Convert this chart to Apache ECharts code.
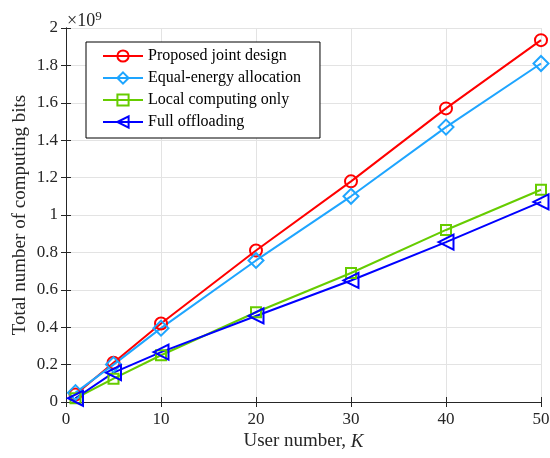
<!DOCTYPE html>
<html>
<head>
<meta charset="utf-8">
<script src="https://cdn.jsdelivr.net/npm/echarts@6/dist/echarts.min.js"></script>
<style>
  html, body { margin: 0; padding: 0; background: #fff; }
  #main { width: 550px; height: 458px; }
</style>
</head>
<body>
<div id="main"></div>
<script>
// 用户数 K
var userNumbers = [1, 5, 10, 20, 30, 40, 50];
// 各方案的总计算比特数 (×1e9)
var proposedJoint = [0.04, 0.21, 0.42, 0.81, 1.18, 1.57, 1.935];
var equalEnergy = [0.05, 0.20, 0.395, 0.757, 1.10, 1.47, 1.81];
var localOnly = [0.02, 0.125, 0.25, 0.48, 0.69, 0.92, 1.135];
var fullOffload = [0.02, 0.157, 0.267, 0.46, 0.65, 0.855, 1.07];
var xTicks = [0, 10, 20, 30, 40, 50];

var font = 'Liberation Serif';
var axisColor = '#262626';

function pairs(ys) {
  return userNumbers.map(function (x, i) { return [x, ys[i]]; });
}

function makeSeries(name, ys, color, symbol, size, rotate) {
  return {
    name: name,
    type: 'line',
    data: pairs(ys),
    symbol: symbol,
    symbolSize: size,
    symbolRotate: rotate || 0,
    showAllSymbol: true,
    lineStyle: { color: color, width: 2 },
    itemStyle: { color: 'rgba(0,0,0,0)', borderColor: color, borderWidth: 2 },
    emphasis: { disabled: true },
    animation: false
  };
}

var chart = echarts.init(document.getElementById('main'));

var option = {
  backgroundColor: '#fff',
  textStyle: { fontFamily: font },
  title: {
    text: '×10{sup|9}',
    left: 62,
    top: 5,
    textStyle: {
      fontFamily: font, fontSize: 18, fontWeight: 'normal', color: axisColor,
      rich: { sup: { fontFamily: font, fontSize: 13, verticalAlign: 'top', padding: [0, 0, 9, 0], color: axisColor } }
    }
  },
  grid: { left: 66, right: 9, top: 28, bottom: 56, outerBoundsMode: 'none', containLabel: false },
  legend: {
    orient: 'vertical',
    left: 86,
    top: 42,
    padding: [6, 19, 8, 16],
    itemGap: 6,
    itemWidth: 40,
    itemHeight: 14,
    borderColor: '#000',
    borderWidth: 1,
    borderRadius: 0,
    backgroundColor: '#fff',
    textStyle: { fontFamily: font, fontSize: 16, color: '#000' },
    data: ['Proposed joint design', 'Equal-energy allocation', 'Local computing only', 'Full offloading']
  },
  xAxis: [{
    type: 'value',
    min: xTicks[0],
    max: xTicks[xTicks.length - 1],
    interval: 10,
    name: 'User number, {i|K}',
    nameLocation: 'middle',
    nameGap: 30,
    nameMoveOverlap: false,
    nameTextStyle: {
      fontFamily: font, fontSize: 19, color: axisColor,
      rich: { i: { fontFamily: font, fontSize: 19, fontStyle: 'italic', color: axisColor } }
    },
    axisLine: { show: true, onZero: false, lineStyle: { color: axisColor, width: 1 } },
    axisTick: { show: true, inside: true, length: 5, lineStyle: { color: axisColor } },
    axisLabel: { fontFamily: font, fontSize: 17, color: axisColor, margin: 9 },
    splitLine: { show: true, lineStyle: { color: '#e3e3e3', width: 1 } }
  }, {
    type: 'value',
    position: 'top',
    min: 0, max: 50, interval: 10,
    axisLine: { show: true, lineStyle: { color: axisColor, width: 1 } },
    axisTick: { show: true, inside: true, length: 5, lineStyle: { color: axisColor } },
    axisLabel: { show: false },
    splitLine: { show: false }
  }],
  yAxis: [{
    type: 'value',
    min: 0,
    max: 2,
    interval: 0.2,
    name: 'Total number of computing bits',
    nameLocation: 'middle',
    nameGap: 36,
    nameMoveOverlap: false,
    nameTextStyle: { fontFamily: font, fontSize: 19, color: axisColor },
    axisLine: { show: true, onZero: false, lineStyle: { color: axisColor, width: 1 } },
    axisTick: { show: true, inside: true, length: 5, lineStyle: { color: axisColor } },
    axisLabel: { fontFamily: font, fontSize: 17, color: axisColor, margin: 8 },
    splitLine: { show: true, lineStyle: { color: '#e3e3e3', width: 1 } }
  }, {
    type: 'value',
    position: 'right',
    min: 0, max: 2, interval: 0.2,
    axisLine: { show: true, lineStyle: { color: axisColor, width: 1 } },
    axisTick: { show: true, inside: true, length: 5, lineStyle: { color: axisColor } },
    axisLabel: { show: false },
    splitLine: { show: false }
  }],
  series: [
    makeSeries('Proposed joint design', proposedJoint, '#ff0000', 'circle', 12),
    makeSeries('Equal-energy allocation', equalEnergy, '#1ea5ff', 'diamond', 15),
    makeSeries('Local computing only', localOnly, '#66cc00', 'rect', 10),
    makeSeries('Full offloading', fullOffload, '#0000ff', 'triangle', 15, 90)
  ]
};

chart.setOption(option);
</script>
</body>
</html>
